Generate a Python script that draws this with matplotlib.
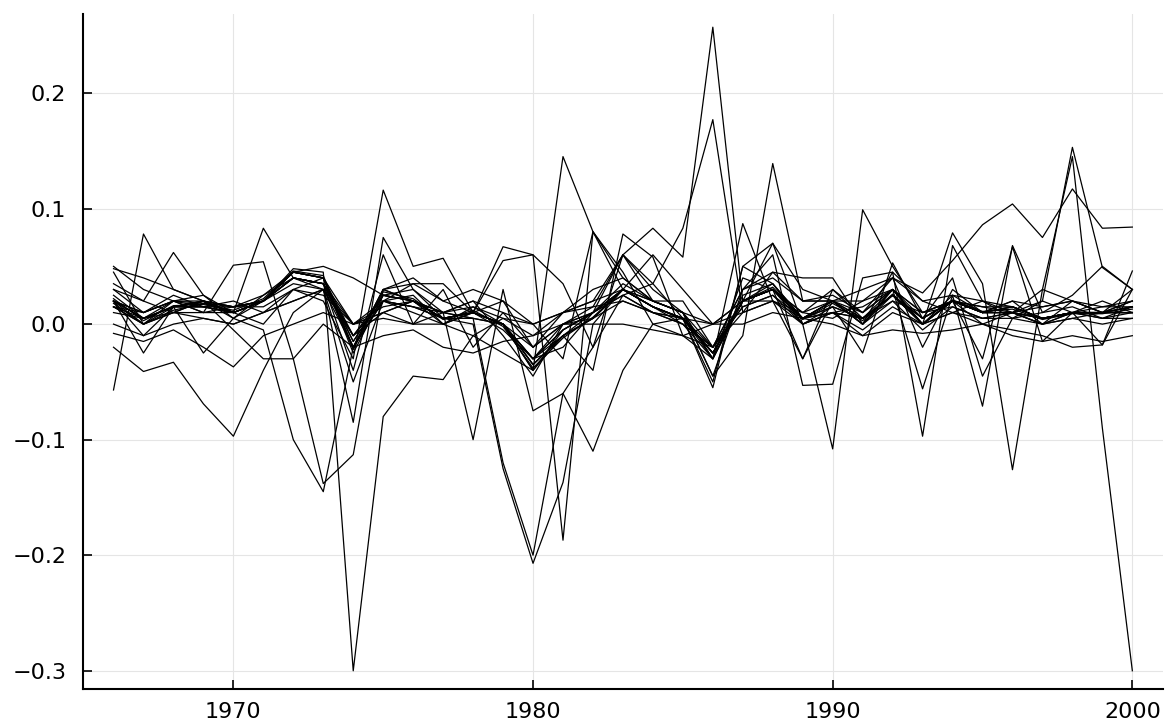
import matplotlib
matplotlib.use("Agg")
import matplotlib.pyplot as plt
import numpy as np

# years on the x axis
years = np.arange(1966, 2001)

# one list per series, 1966 .. 2000
s01 = [0.025, 0.005, 0.02, 0.018, 0.01, 0.02, 0.048, 0.045, -0.30, -0.08, -0.045, -0.048, -0.01, -0.025, -0.04, -0.005, 0.01, 0.03, 0.015, 0.0, -0.03, 0.02, 0.035, 0.005, 0.02, 0.0, 0.03, 0.005, 0.02, 0.015, 0.01, 0.005, 0.01, 0.005, 0.015]
s02 = [-0.02, -0.041, -0.033, -0.069, -0.097, -0.04, 0.01, 0.03, -0.05, 0.02, 0.025, 0.0, 0.015, 0.0, -0.03, -0.02, 0.01, 0.025, 0.01, 0.005, -0.02, 0.015, 0.025, 0.0, 0.01, 0.005, 0.02, -0.005, 0.015, 0.005, 0.01, 0.0, 0.005, 0.01, 0.02]
s03 = [-0.057, 0.078, 0.03, 0.02, 0.005, 0.025, 0.04, 0.03, -0.085, 0.075, 0.03, 0.01, 0.02, -0.01, -0.045, 0.0, 0.015, 0.06, 0.03, 0.01, -0.045, 0.03, 0.045, 0.04, 0.04, 0.0, 0.03, 0.0, 0.025, 0.02, 0.005, 0.01, 0.015, 0.005, 0.01]
s04 = [0.035, 0.02, 0.062, 0.025, 0.005, -0.005, -0.10, -0.145, -0.02, 0.03, 0.035, 0.02, 0.01, 0.055, 0.06, 0.035, -0.02, 0.06, 0.02, 0.01, -0.03, 0.04, 0.03, 0.01, 0.03, 0.01, 0.04, -0.02, 0.03, 0.01, 0.02, 0.0, 0.02, 0.01, 0.03]
s05 = [0.045, 0.0, 0.02, 0.025, 0.01, 0.083, 0.04, 0.035, -0.04, 0.06, 0.0, 0.03, -0.02, 0.01, -0.02, 0.01, 0.03, 0.04, 0.02, 0.02, -0.02, 0.03, 0.04, 0.02, 0.02, 0.02, 0.04, 0.02, 0.025, 0.01, 0.02, 0.015, 0.02, 0.015, 0.02]
s06 = [0.05, 0.03, 0.02, 0.01, 0.051, 0.054, -0.03, -0.138, -0.113, 0.03, 0.04, 0.02, 0.03, 0.02, 0.0, -0.03, 0.08, 0.045, 0.0, 0.005, -0.055, 0.05, 0.035, 0.005, 0.01, 0.015, 0.03, 0.01, 0.015, 0.005, 0.01, 0.02, 0.01, 0.02, 0.01]
s07 = [0.03, 0.01, 0.025, 0.015, 0.02, 0.01, 0.03, 0.02, -0.03, 0.116, 0.05, 0.057, 0.01, 0.0, -0.02, 0.0, 0.01, 0.03, 0.06, 0.03, 0.0, 0.02, 0.03, 0.01, 0.005, 0.02, 0.03, 0.01, 0.02, 0.0, 0.01, 0.0, 0.01, 0.005, 0.005]
s08 = [0.015, 0.005, 0.015, 0.02, 0.015, 0.02, 0.04, 0.035, 0.0, 0.02, 0.035, 0.035, 0.01, 0.0, -0.04, 0.145, 0.08, 0.04, 0.02, 0.01, -0.02, 0.02, 0.03, 0.0, 0.01, 0.005, 0.025, 0.005, 0.02, 0.01, 0.015, 0.005, 0.01, 0.01, 0.01]
s09 = [0.02, 0.0, 0.015, 0.02, 0.01, 0.02, 0.045, 0.04, -0.02, 0.03, 0.02, 0.005, 0.0, -0.125, -0.207, -0.137, 0.0, 0.03, 0.015, 0.005, -0.025, 0.02, 0.03, -0.03, 0.03, 0.005, 0.025, 0.0, 0.02, 0.01, 0.015, 0.005, 0.01, 0.01, 0.015]
s10 = [0.02, 0.005, 0.015, 0.015, 0.01, 0.02, 0.045, 0.04, -0.025, 0.025, 0.02, 0.01, 0.005, -0.12, -0.20, -0.06, -0.02, 0.025, 0.035, 0.005, -0.03, 0.087, 0.02, -0.03, 0.02, 0.005, 0.025, 0.005, 0.02, 0.01, 0.01, 0.005, 0.01, 0.01, 0.01]
s11 = [0.018, 0.0, 0.012, 0.018, 0.015, 0.025, 0.045, 0.04, -0.01, 0.025, 0.02, 0.005, 0.01, 0.067, 0.06, -0.187, 0.08, 0.03, 0.015, 0.005, -0.025, 0.02, 0.03, 0.005, 0.02, 0.005, 0.025, 0.005, 0.02, 0.01, 0.01, 0.005, 0.01, 0.01, 0.01]
s12 = [0.01, 0.005, 0.01, 0.005, 0.0, 0.01, 0.02, 0.03, -0.01, 0.01, 0.0, 0.01, -0.10, 0.03, -0.075, -0.06, -0.11, -0.04, 0.0, -0.01, -0.02, 0.01, 0.02, 0.0, 0.01, -0.005, 0.015, 0.0, 0.01, 0.005, 0.005, 0.0, 0.005, 0.0, 0.005]
s13 = [0.02, 0.005, 0.015, 0.015, 0.01, 0.02, 0.04, 0.035, -0.01, 0.02, 0.01, 0.0, 0.01, 0.0, -0.03, 0.0, 0.01, 0.06, 0.083, 0.058, 0.257, 0.02, 0.07, 0.03, 0.02, 0.0, 0.02, 0.01, 0.02, 0.01, 0.01, 0.0, 0.01, 0.01, 0.01]
s14 = [0.015, 0.01, 0.02, 0.01, 0.015, 0.015, 0.03, 0.025, 0.0, 0.015, 0.02, 0.01, 0.015, 0.005, -0.01, 0.01, 0.02, 0.06, 0.035, 0.083, 0.177, 0.01, 0.045, 0.02, 0.025, 0.01, 0.03, 0.0, 0.02, 0.015, 0.015, 0.005, 0.01, 0.015, 0.015]
s15 = [0.02, 0.01, 0.02, 0.02, 0.015, 0.02, 0.04, 0.035, -0.02, 0.02, 0.015, 0.005, 0.01, -0.005, -0.03, -0.01, 0.01, 0.035, 0.02, 0.01, -0.045, -0.01, 0.139, 0.02, 0.02, 0.01, 0.03, 0.0, 0.02, -0.03, 0.067, -0.015, 0.01, 0.01, 0.015]
s16 = [0.02, 0.005, 0.015, 0.02, 0.015, 0.02, 0.045, 0.04, -0.015, 0.025, 0.02, 0.005, 0.01, 0.0, -0.035, -0.01, 0.005, 0.03, 0.015, 0.005, -0.05, 0.05, 0.07, 0.0, -0.108, 0.099, 0.05, 0.01, 0.02, 0.01, 0.015, 0.005, 0.01, -0.018, 0.03]
s17 = [0.03, 0.02, 0.01, 0.02, 0.01, 0.0, 0.03, 0.04, 0.0, 0.01, 0.02, 0.0, 0.01, 0.02, -0.02, 0.0, 0.005, 0.02, 0.01, 0.0, -0.02, 0.03, 0.06, -0.053, -0.052, 0.04, 0.045, 0.02, 0.01, 0.02, 0.01, 0.015, 0.02, 0.01, 0.02]
s18 = [0.02, -0.025, 0.015, -0.025, 0.005, 0.02, 0.045, 0.04, -0.02, 0.03, 0.02, 0.005, 0.01, 0.0, -0.04, -0.01, 0.005, 0.03, 0.015, 0.005, -0.025, 0.02, 0.03, 0.005, 0.02, 0.0, 0.045, -0.097, 0.068, 0.02, 0.015, 0.005, 0.01, 0.01, 0.015]
s19 = [0.015, 0.0, 0.01, 0.02, 0.01, 0.02, 0.04, 0.035, -0.01, 0.02, 0.015, 0.01, 0.005, 0.0, -0.03, -0.005, 0.01, 0.03, 0.02, 0.01, -0.03, 0.025, 0.035, 0.0, 0.015, 0.005, 0.03, -0.056, 0.025, -0.071, 0.068, 0.01, 0.025, 0.05, 0.03]
s20 = [0.02, -0.01, 0.015, 0.015, 0.01, 0.02, 0.045, 0.05, 0.04, 0.025, 0.03, 0.005, 0.01, 0.0, -0.035, -0.01, 0.005, 0.03, 0.015, 0.005, -0.025, 0.02, 0.03, 0.005, 0.02, 0.0, 0.025, 0.0, 0.079, 0.035, -0.126, 0.03, 0.02, 0.01, 0.015]
s21 = [0.0, -0.01, 0.0, 0.005, 0.0, 0.01, 0.02, 0.03, 0.0, 0.01, 0.02, 0.01, 0.02, 0.01, 0.0, 0.01, 0.02, 0.03, 0.02, 0.01, 0.0, 0.02, 0.02, 0.01, 0.02, 0.03, 0.04, 0.027, 0.055, 0.086, 0.104, 0.075, 0.117, 0.083, 0.084]
s22 = [0.02, 0.01, 0.02, 0.015, 0.015, 0.02, 0.04, 0.035, -0.015, 0.025, 0.02, 0.005, 0.01, 0.0, -0.035, -0.01, -0.04, 0.078, 0.058, -0.01, -0.03, 0.02, 0.03, 0.005, 0.015, 0.005, 0.025, 0.0, 0.02, 0.01, 0.01, 0.03, 0.145, -0.09, -0.30]
s23 = [0.015, 0.0, 0.01, 0.01, 0.01, 0.02, 0.035, 0.03, -0.02, 0.02, 0.015, 0.005, 0.005, 0.0, -0.03, -0.005, 0.01, 0.025, 0.01, 0.0, -0.02, 0.015, 0.025, 0.005, 0.015, -0.025, 0.053, 0.005, 0.04, -0.045, 0.005, 0.02, 0.153, 0.049, 0.03]
s24 = [0.048, 0.04, 0.03, 0.02, -0.005, -0.03, -0.03, 0.0, -0.02, -0.01, -0.005, -0.02, -0.025, -0.015, -0.01, 0.0, 0.0, 0.0, -0.005, -0.01, 0.0, 0.0, 0.01, 0.005, 0.0, -0.01, -0.005, -0.008, -0.005, 0.0, -0.01, -0.015, -0.01, -0.015, -0.01]
s25 = [-0.008, -0.015, -0.005, -0.02, -0.037, -0.01, 0.0, 0.01, 0.0, 0.005, 0.0, 0.0, -0.01, 0.005, 0.0, 0.01, 0.015, 0.02, 0.01, 0.005, 0.0, 0.01, 0.02, 0.005, 0.01, -0.01, 0.01, 0.0, 0.01, 0.0, -0.005, -0.01, -0.02, -0.018, 0.046]
s26 = [0.022, 0.003, 0.016, 0.017, 0.012, 0.022, 0.046, 0.042, -0.022, 0.028, 0.022, 0.004, 0.012, -0.002, -0.038, -0.012, 0.006, 0.03, 0.015, 0.004, -0.025, 0.02, 0.032, 0.004, 0.018, 0.003, 0.026, 0.0, 0.021, 0.011, 0.013, 0.004, 0.009, 0.009, 0.013]

series = [s01, s02, s03, s04, s05, s06, s07, s08, s09, s10, s11, s12, s13,
          s14, s15, s16, s17, s18, s19, s20, s21, s22, s23, s24, s25, s26]

xticks = [1970, 1980, 1990, 2000]
yticks = [-0.3, -0.2, -0.1, 0.0, 0.1, 0.2]

fig = plt.figure(figsize=(11.65, 7.24), dpi=100)
ax = fig.add_axes([0.0712, 0.048, 0.927, 0.932])

for s in series:
    ax.plot(years, s, color="black", lw=0.9)

ax.set_xlim(1964.98, 2001.02)
ax.set_ylim(-0.316, 0.268)
ax.set_xticks(xticks)
ax.set_yticks(yticks)
ax.set_yticklabels([f"{v:.1f}".replace("-", "\u2212") for v in yticks])
ax.grid(True, color="#e5e5e5", lw=0.8)
ax.set_axisbelow(True)
for side in ["top", "right"]:
    ax.spines[side].set_visible(False)
for side in ["left", "bottom"]:
    ax.spines[side].set_linewidth(1.5)
ax.tick_params(direction="in", length=6.5, width=1.2, labelsize=16)
ax.tick_params(axis="x", pad=9)
ax.tick_params(axis="y", pad=12)

fig.savefig("out.png", dpi=100)
